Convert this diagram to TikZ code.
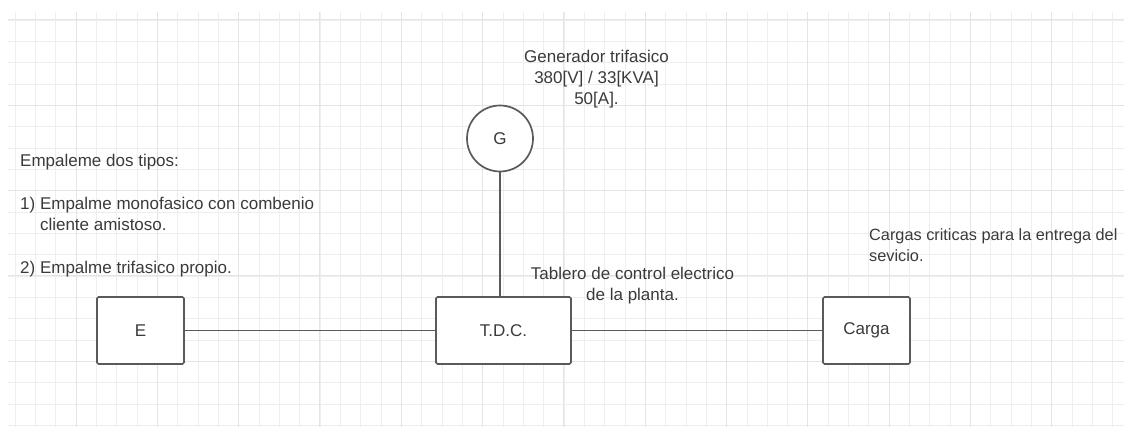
\documentclass[tikz,border=0pt]{standalone}
\usepackage{fontspec}
\setmainfont{Liberation Sans}
\definecolor{ink}{HTML}{5A5A5A}
\definecolor{txt}{HTML}{3A3A3A}
\definecolor{gridminor}{HTML}{EEEEEE}
\definecolor{gridmajor}{HTML}{E4E4E4}
\newcommand{\lbl}{\fontsize{17}{21.3}\selectfont}
\tikzset{
  blk/.style={draw=ink, fill=white, line width=1.7pt, rounded corners=1.5pt,
              minimum height=67pt, inner sep=0pt, font=\lbl, text=txt},   % block
  gen/.style={circle, draw=ink, fill=white, line width=1.7pt,
              minimum size=66pt, inner sep=0pt, font=\lbl, text=txt},     % generator
  wire/.style={draw=ink, line width=1.7pt},
  note/.style={font=\lbl, text=txt, inner sep=0pt},
  gmin/.style={draw=gridminor, line width=0.8pt},
  gmaj/.style={draw=gridmajor, line width=1pt},
}

\begin{document}
\begin{tikzpicture}[x=1pt, y=-1pt]
  \clip (0,0) rectangle (1124,427);
  % grid
  \begin{scope}
    \clip (8,12) rectangle (1124,427);
    \foreach \k in {-4,...,51}
      \draw[gmin] ({76+20.33*\k},12) -- ++(0,415);
    \foreach \k in {0,...,19}
      \draw[gmin] (8,{20+21.33*\k}) -- (1124,{20+21.33*\k});
    \foreach \k in {-1,...,12}
      \draw[gmaj] ({76+81.33*\k},12) -- ++(0,415);
    \foreach \k in {0,...,4}
      \draw[gmaj] (8,{20+85.33*\k}) -- (1124,{20+85.33*\k});
  \end{scope}
  \node[blk, minimum width=87pt]  (emp)   at (140.5,330.5) {E};
  \node[blk, minimum width=135pt] (tdc)   at (503.5,330.5) {T.D.C.};
  \node[blk, minimum width=87pt]  (carga) at (866.5,330.5) {Carga};
  \node[gen]                      (gen)   at (500,138.5)   {G};
  \draw[wire] (emp) -- (tdc);
  \draw[wire] (tdc) -- (carga);
  \draw[wire] (gen) -- (gen |- tdc.north);
  % base = last line
  \node[note, anchor=base, align=center] (gentxt) at (596.5,105)
    {Generador trifasico\\380[V] / 33[KVA]\\50[A].};
  \node[note, anchor=base west, align=left] (emptxt) at (20,273.3)
    {Empaleme dos tipos:\\ \\1) Empalme monofasico con combenio\\\hphantom{1) }cliente amistoso.\\ \\2) Empalme trifasico propio.};
  \node[note, anchor=base, align=center] (tdctxt) at (632.5,301)
    {Tablero de control electrico\\de la planta.};
  \node[note, anchor=base west, align=left, font=\fontsize{16.3}{21.3}\selectfont]
    (cargatxt) at (869,261.7)
    {Cargas criticas para la entrega del\\sevicio.};
\end{tikzpicture}
\end{document}
